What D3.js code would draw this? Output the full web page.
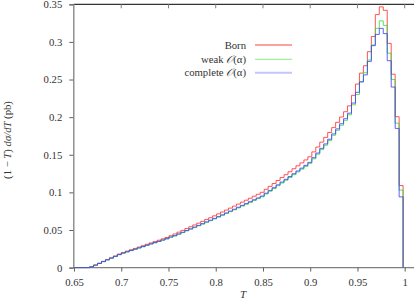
<!DOCTYPE html>
<html><head><meta charset="utf-8">
<script src="https://cdn.jsdelivr.net/npm/d3@7"></script>
<style>
html,body{margin:0;padding:0;background:#fff;}
</style></head>
<body><svg id="c" width="414" height="308"></svg>
<script>
// Histogram bins: T from binStart in steps of binWidth
const binStart = 0.6665;
const binWidth = 0.0042;
const xTicks = [0.65,0.7,0.75,0.8,0.85,0.9,0.95,1];
const xTickLabels = ["0.65","0.7","0.75","0.8","0.85","0.9","0.95","1"];
const yTicks = [0,0.05,0.1,0.15,0.2,0.25,0.3,0.35];
const yTickLabels = ["0","0.05","0.1","0.15","0.2","0.25","0.3","0.35"];
const seriesNames = ["Born","weak","complete"];
const born = [0.0010,0.0034,0.0058,0.0083,0.0107,0.0131,0.0155,0.0180,0.0201,0.0219,
0.0237,0.0255,0.0273,0.0291,0.0310,0.0328,0.0346,0.0364,0.0382,0.0400,
0.0423,0.0447,0.0471,0.0495,0.0519,0.0543,0.0567,0.0591,0.0615,0.0640,
0.0663,0.0688,0.0714,0.0739,0.0765,0.0791,0.0817,0.0844,0.0870,0.0896,
0.0922,0.0949,0.0975,0.1001,0.1041,0.1080,0.1118,0.1158,0.1197,0.1235,
0.1274,0.1314,0.1353,0.1392,0.1431,0.1473,0.1538,0.1603,0.1668,0.1731,
0.1796,0.1861,0.1931,0.2002,0.2072,0.2150,0.2290,0.2440,0.2585,0.2683,
0.2870,0.3072,0.3363,0.3466,0.3420,0.2980,0.2571,0.2006,0.1091];
const weak = [0.0010,0.0032,0.0055,0.0079,0.0102,0.0125,0.0148,0.0172,0.0192,0.0209,
0.0226,0.0244,0.0261,0.0278,0.0296,0.0313,0.0330,0.0348,0.0365,0.0382,
0.0404,0.0420,0.0443,0.0465,0.0488,0.0510,0.0533,0.0556,0.0578,0.0602,
0.0623,0.0647,0.0671,0.0695,0.0719,0.0744,0.0768,0.0793,0.0818,0.0842,
0.0867,0.0892,0.0917,0.0941,0.0979,0.1015,0.1051,0.1089,0.1125,0.1161,
0.1198,0.1235,0.1272,0.1308,0.1345,0.1385,0.1446,0.1507,0.1568,0.1627,
0.1688,0.1759,0.1825,0.1892,0.1958,0.2032,0.2164,0.2300,0.2470,0.2590,
0.2760,0.2960,0.3180,0.3280,0.3220,0.2850,0.2500,0.1920,0.1030];
const complete = [0.0010,0.0033,0.0056,0.0080,0.0103,0.0126,0.0149,0.0173,0.0193,0.0210,
0.0228,0.0245,0.0262,0.0279,0.0298,0.0315,0.0332,0.0349,0.0367,0.0384,
0.0406,0.0425,0.0447,0.0470,0.0493,0.0516,0.0539,0.0561,0.0584,0.0608,
0.0630,0.0654,0.0678,0.0702,0.0727,0.0751,0.0776,0.0802,0.0827,0.0851,
0.0876,0.0902,0.0926,0.0951,0.0989,0.1026,0.1062,0.1100,0.1137,0.1173,
0.1210,0.1248,0.1285,0.1322,0.1359,0.1399,0.1461,0.1523,0.1585,0.1644,
0.1706,0.1777,0.1844,0.1912,0.1979,0.2053,0.2187,0.2330,0.2469,0.2562,
0.2741,0.2950,0.3100,0.3180,0.3110,0.2750,0.2400,0.1850,0.0940];
const colors = ["#ff2a2a","#33dd33","#3a3aff"];
const legendColors = ["#ff8080","#a0f0a0","#c4c4ff"];
const SERIF = '"Liberation Serif", "DejaVu Serif", serif';
const FS = "10.7px";

const svg = d3.select("#c");
const x = d3.scaleLinear().domain([0.65,1]).range([74,404.7]);
const y = d3.scaleLinear().domain([0,0.35]).range([267.6,4.3]);

// frame: top border black
svg.append("line").attr("x1",73.5).attr("x2",420).attr("y1",y(0.35)).attr("y2",y(0.35))
  .attr("stroke","#000").attr("stroke-width",1);

// axes
const xAxis = d3.axisBottom(x).tickValues(xTicks).tickFormat((d,i)=>xTickLabels[i]).tickSize(4).tickPadding(7);
const gx = svg.append("g").attr("transform",`translate(0,${y(0)})`).call(xAxis);
gx.attr("font-family",null);
gx.select(".domain").attr("stroke","#808080").attr("stroke-width",1.3).attr("d",`M73.3,0H420`);
gx.selectAll(".tick line").attr("stroke","#606060");
gx.selectAll("text").style("font-size",FS).style("fill","#333").style("font-family",SERIF);

const yAxis = d3.axisLeft(y).tickValues(yTicks).tickFormat((d,i)=>yTickLabels[i]).tickSize(4).tickPadding(7);
const gy = svg.append("g").attr("transform",`translate(${x(0.65)-0.7},0)`).call(yAxis);
gy.attr("font-family",null);
gy.select(".domain").attr("stroke","#808080").attr("stroke-width",1.3);
gy.selectAll(".tick line").attr("stroke","#606060");
gy.selectAll("text").style("font-size",FS).style("fill","#333").style("font-family",SERIF);

// top inner ticks
svg.append("g").selectAll("line").data(xTicks.slice(1)).join("line")
  .attr("x1",d=>x(d)).attr("x2",d=>x(d)).attr("y1",y(0.35)).attr("y2",y(0.35)+4)
  .attr("stroke","#808080").attr("stroke-width",1);

// histograms
const edges = born.map((_,i)=>binStart+i*binWidth);
const lastEdge = binStart+born.length*binWidth;
const line = d3.line().x(d=>x(d[0])).y(d=>y(d[1])).curve(d3.curveStepAfter);
[born,weak,complete].forEach((s,si)=>{
  const pts = [[0.65,0]].concat(s.map((v,i)=>[edges[i],v])).concat([[lastEdge,0]]);
  svg.append("path").attr("d",line(pts)).attr("fill","none")
    .attr("stroke",colors[si]).attr("stroke-width",1).attr("stroke-opacity",0.8);
});

// legend
const legendLabels = [["Born"],["weak ","𝒪","(α)"],["complete ","𝒪","(α)"]];
const ly = [45,59.3,72.7];
legendLabels.forEach((parts,i)=>{
  const t = svg.append("text").attr("x",246).attr("y",ly[i]+3.6).attr("text-anchor","end")
    .style("font-size",FS).style("font-family",SERIF).style("fill","#333");
  parts.forEach((p,j)=>{
    const ts = t.append("tspan").text(p);
    if(j===1) ts.style("font-family","DejaVu Serif, serif").style("font-style","italic");
  });
  svg.append("line").attr("x1",255).attr("x2",292).attr("y1",ly[i]).attr("y2",ly[i])
    .attr("stroke",legendColors[i]).attr("stroke-width",i===2?2:1.3);
});

// axis titles
svg.append("text").attr("x",243).attr("y",298).attr("text-anchor","middle")
  .style("font-size","11px").style("font-style","italic").style("font-family",SERIF).style("fill","#333").text("T");
const yl = svg.append("text").attr("transform","translate(11,140) rotate(-90)")
  .attr("text-anchor","middle").style("font-size",FS).style("font-family",SERIF).style("fill","#333");
yl.append("tspan").text("(1 − ");
yl.append("tspan").style("font-style","italic").text("T");
yl.append("tspan").text(") ");
yl.append("tspan").style("font-style","italic").text("dσ/dT");
yl.append("tspan").text(" (pb)");
</script></body></html>
